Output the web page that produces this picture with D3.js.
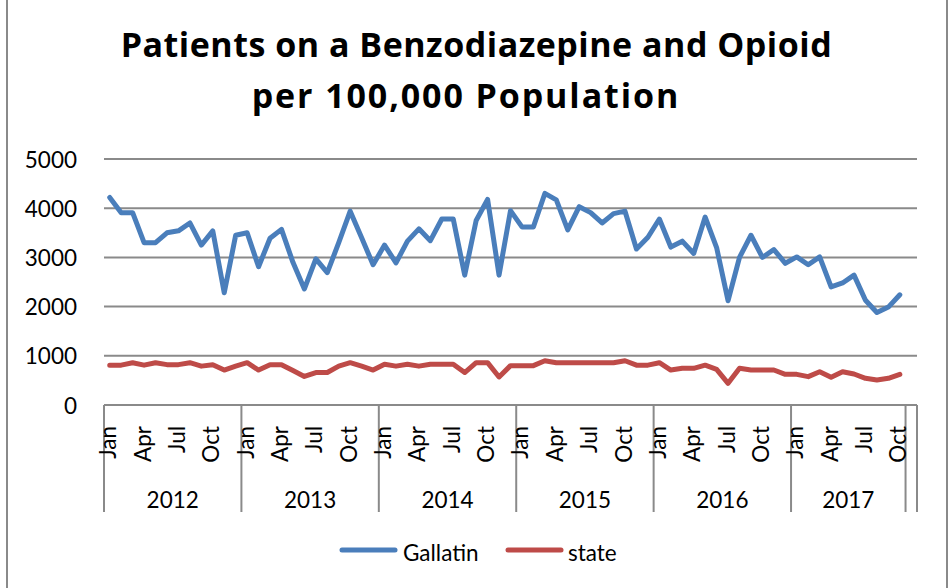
<!DOCTYPE html>
<html>
<head>
<meta charset="utf-8">
<script src="https://cdn.jsdelivr.net/npm/d3@7"></script>
<style>
  html, body { margin: 0; padding: 0; background: #fff; }
  svg { display: block; }
  text { font-family: Lato, "Open Sans", "DejaVu Sans", sans-serif; fill: #000; }
  text.title { font-family: "Open Sans", "Noto Sans", sans-serif; }
</style>
</head>
<body>
<svg id="chart" width="950" height="588"></svg>
<script>
// ---------- data ----------
const titleLines = ["Patients on a Benzodiazepine and Opioid", "per 100,000 Population"];
const years = [2012, 2013, 2014, 2015, 2016, 2017];
const monthsPerYear = [12, 12, 12, 12, 12, 10];
const monthNames = ["Jan","Feb","Mar","Apr","May","Jun","Jul","Aug","Sep","Oct","Nov","Dec"];
const yTicks = [0, 1000, 2000, 3000, 4000, 5000];
const seriesNames = ["Gallatin", "state"];

const gallatin = [
  4220, 3910, 3910, 3300, 3300, 3500, 3540, 3700, 3250, 3540, 2280, 3450,
  3500, 2810, 3390, 3570, 2900, 2360, 2970, 2690, 3300, 3940, 3400, 2850,
  3250, 2890, 3330, 3580, 3340, 3780, 3780, 2640, 3750, 4180, 2640, 3950,
  3620, 3620, 4300, 4170, 3560, 4030, 3910, 3700, 3890, 3940, 3170, 3410,
  3780, 3210, 3330, 3080, 3820, 3200, 2120, 3000, 3450, 3000, 3160, 2880,
  3010, 2850, 3010, 2400, 2480, 2640, 2130, 1880, 1990, 2240
];
const state = [
  810, 810, 860, 810, 860, 820, 820, 860, 790, 820, 710, 790,
  860, 710, 820, 820, 700, 580, 660, 660, 790, 860, 790, 710,
  830, 790, 830, 790, 830, 830, 830, 660, 860, 860, 570, 800,
  800, 800, 900, 860, 860, 860, 860, 860, 860, 900, 810, 810,
  860, 710, 745, 745, 810, 725, 440, 745, 711, 711, 711, 623,
  623, 576, 677, 562, 677, 630, 542, 508, 542, 623
];

// ---------- build categories ----------
const categories = [];
years.forEach((yr, yi) => {
  for (let m = 0; m < monthsPerYear[yi]; m++) categories.push({ key: yr + "-" + m, month: monthNames[m], year: yr, idx: categories.length });
});
const slotKeys = categories.map(c => c.key).concat(["blank"]); // trailing empty category

// ---------- layout ----------
const svg = d3.select("#chart");
const W = 950, H = 588;
const plot = { left: 104, right: 917, top: 159, bottom: 405 };

const x = d3.scaleBand().domain(slotKeys).range([plot.left, plot.right]).padding(0);
const y = d3.scaleLinear().domain([0, 5000]).range([plot.bottom, plot.top]);
const cx = i => x(slotKeys[i]) + x.bandwidth() / 2;

const gridColor = "#8a8a8a";

// chart border
svg.append("rect").attr("x", 7).attr("y", -2).attr("width", 940).attr("height", H + 4)
  .attr("fill", "none").attr("stroke", gridColor).attr("stroke-width", 2);

// title
const titleY = [57, 107.5];
const titleX = [[120.7, 831.7], [251.7, 678.3]];
titleLines.forEach((t, i) => {
  svg.append("text").attr("class", "title")
    .attr("x", titleX[i][0]).attr("y", titleY[i])
    .attr("textLength", titleX[i][1] - titleX[i][0])
    .attr("lengthAdjust", "spacing")
    .style("font-size", "34px").style("font-weight", "bold")
    .text(t);
});

// gridlines
svg.append("g").selectAll("line").data(yTicks.filter(d => d > 0)).join("line")
  .attr("x1", plot.left).attr("x2", plot.right)
  .attr("y1", d => y(d)).attr("y2", d => y(d))
  .attr("stroke", gridColor).attr("stroke-width", 2);

// y axis labels
const yAxis = d3.axisLeft(y).tickValues(yTicks).tickSize(0).tickPadding(0).tickFormat(d3.format("d"));
const yg = svg.append("g").attr("transform", `translate(77,0)`).call(yAxis);
yg.select(".domain").remove();
yg.selectAll("text").style("font-size", "22.5px").attr("dy", "0.36em").attr("fill", "#000");

// category axis line
svg.append("line").attr("x1", plot.left).attr("x2", plot.right)
  .attr("y1", plot.bottom).attr("y2", plot.bottom)
  .attr("stroke", gridColor).attr("stroke-width", 2);

// group boundaries
const boundaries = [];
let acc = 0;
years.forEach((yr, yi) => { boundaries.push(acc); acc += monthsPerYear[yi]; });
boundaries.push(acc, acc + 1);
svg.append("g").selectAll("line").data(boundaries).join("line")
  .attr("x1", d => d < slotKeys.length ? x(slotKeys[d]) : plot.right)
  .attr("x2", d => d < slotKeys.length ? x(slotKeys[d]) : plot.right)
  .attr("y1", plot.bottom).attr("y2", 512)
  .attr("stroke", gridColor).attr("stroke-width", 2);

// month labels (every 3rd)
svg.append("g").selectAll("text").data(categories.filter(c => c.idx % 3 === 0)).join("text")
  .attr("transform", c => `translate(${cx(c.idx) + 6.5},426) rotate(-90)`)
  .attr("text-anchor", "end")
  .style("font-size", "22.5px")
  .text(c => c.month);

// year labels
let start = 0;
years.forEach((yr, yi) => {
  const x0 = x(slotKeys[start]);
  const endIdx = start + monthsPerYear[yi];
  const x1 = endIdx < slotKeys.length ? x(slotKeys[endIdx]) : plot.right;
  svg.append("text").attr("x", (x0 + x1) / 2).attr("y", 508)
    .attr("text-anchor", "middle").style("font-size", "22.5px").text(yr);
  start = endIdx;
});

// lines
const colors = ["#4A7EBB", "#BE4B48"];
const line = d3.line().x((d, i) => cx(i)).y(d => y(d));
[gallatin, state].forEach((s, k) => {
  svg.append("path").datum(s).attr("d", line)
    .attr("fill", "none").attr("stroke", colors[k]).attr("stroke-width", 5)
    .attr("stroke-linejoin", "round").attr("stroke-linecap", "round");
});

// legend
const legendItems = [
  { x1: 342, x2: 395, tx: 403 },
  { x1: 508, x2: 561, tx: 568 }
];
legendItems.forEach((l, k) => {
  svg.append("line").attr("x1", l.x1).attr("x2", l.x2).attr("y1", 550).attr("y2", 550)
    .attr("stroke", colors[k]).attr("stroke-width", 5).attr("stroke-linecap", "round");
  svg.append("text").attr("x", l.tx).attr("y", 561).style("font-size", "22.5px").text(seriesNames[k]);
});
</script>
</body>
</html>
